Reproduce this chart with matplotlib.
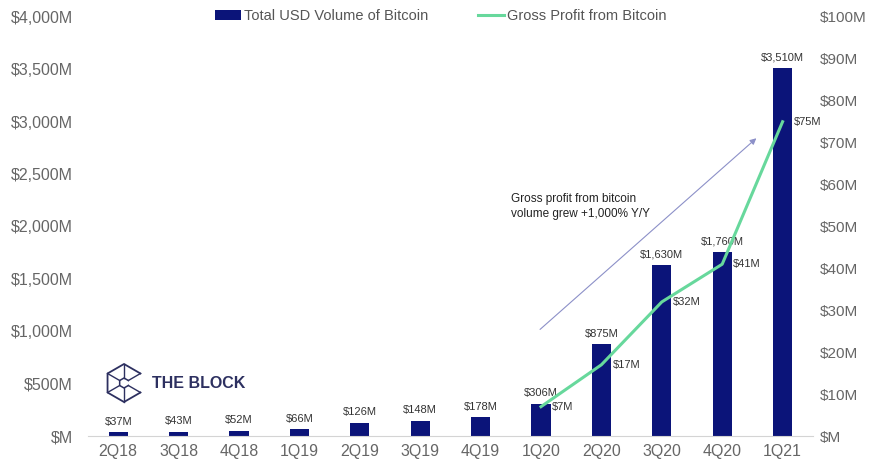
import matplotlib
matplotlib.use("Agg")
import matplotlib.pyplot as plt
import numpy as np
from matplotlib.lines import Line2D

quarters = ['2Q18', '3Q18', '4Q18', '1Q19', '2Q19', '3Q19', '4Q19',
            '1Q20', '2Q20', '3Q20', '4Q20', '1Q21']
volume = [37, 43, 52, 66, 126, 148, 178, 306, 875, 1630, 1760, 3510]
profit_quarters = ['1Q20', '2Q20', '3Q20', '4Q20', '1Q21']
profit = [7, 17, 32, 41, 75]

left_ticks = [0, 500, 1000, 1500, 2000, 2500, 3000, 3500, 4000]
right_ticks = [0, 10, 20, 30, 40, 50, 60, 70, 80, 90, 100]

navy = '#0b1479'
green = '#67d89c'
gray = '#666666'

plt.rcParams['font.family'] = ['Liberation Sans', 'DejaVu Sans']

fig = plt.figure(figsize=(8.69, 4.63), dpi=100)
ax = fig.add_axes([0.1013, 0.0583, 0.834, 0.905])
x = np.arange(len(quarters))
bars = ax.bar(x, volume, width=0.32, color=navy, zorder=2,
              label='Total USD Volume of Bitcoin')
ax.set_xlim(-0.5, len(quarters) - 0.5)
ax.set_ylim(0, 4000)
ax.set_yticks(left_ticks)
ax.set_yticklabels(['$M' if v == 0 else f'${v:,}M' for v in left_ticks],
                   fontsize=11.5, color=gray)
ax.set_xticks(x)
ax.set_xticklabels(quarters, fontsize=11.5, color=gray)
ax.tick_params(axis='both', length=0)
ax.tick_params(axis='y', pad=11)
ax.tick_params(axis='x', pad=6)
for s in ['top', 'right', 'left']:
    ax.spines[s].set_visible(False)
ax.spines['bottom'].set_color('#d4d4d4')

for xi, v in zip(x, volume):
    ax.annotate(f'${v:,}M', (xi, v), xytext=(0, 4), textcoords='offset points',
                ha='center', va='bottom', fontsize=8, color='#333333')

ax2 = ax.twinx()
px = [quarters.index(q) for q in profit_quarters]
ax2.plot(px, profit, color=green, lw=2.2, zorder=3,
         label='Gross Profit from Bitcoin')
ax2.set_ylim(0, 100)
ax2.set_yticks(right_ticks)
ax2.set_yticklabels(['$M' if v == 0 else f'${v}M' for v in right_ticks],
                    fontsize=11, color=gray)
ax2.tick_params(axis='y', length=0, pad=5)
for s in ['top', 'right', 'left', 'bottom']:
    ax2.spines[s].set_visible(False)
for xi, v in zip(px, profit):
    ax2.annotate(f'${v}M', (xi, v), xytext=(8, 0), textcoords='offset points',
                 ha='left', va='center', fontsize=8, color='#333333')

# arrow + annotation
ax2.annotate('', xy=(10.6, 71.5), xytext=(6.95, 25),
             arrowprops=dict(arrowstyle='-|>', color='#8c90c8', lw=0.8,
                             mutation_scale=9))
ax2.text(6.5, 54.8, 'Gross profit from bitcoin\nvolume grew +1,000% Y/Y',
         fontsize=8.5, color='#222222', va='center', ha='left', linespacing=1.3)

# legend
handles = [bars, ax2.get_lines()[0]]
leg = fig.legend(handles, [h.get_label() for h in handles], ncol=2,
                 loc='center', bbox_to_anchor=(0.507, 0.966), frameon=False,
                 fontsize=10.5, handlelength=1.8, handletextpad=0.2,
                 columnspacing=3.4)
for t in leg.get_texts():
    t.set_color('#555555')

# logo
W, H = 869, 463
def fx(p):
    return p / W
def fy(p):
    return 1 - p / H
cx, cy, r = 124, 383, 19
ang = np.deg2rad(np.arange(30, 390, 60))
hx = cx + r * np.cos(ang)
hy = cy - r * np.sin(ang)
logo = '#2d3060'
fig.add_artist(Line2D(fx(hx), fy(hy), color=logo, lw=1.3,
                      transform=fig.transFigure))
ir = 5
ix = cx + ir * np.cos(ang)
iy = cy - ir * np.sin(ang)
fig.add_artist(Line2D(fx(ix), fy(iy), color=logo, lw=1.1,
                      transform=fig.transFigure))
for k in range(6):
    fig.add_artist(Line2D([fx(hx[k]), fx(ix[k])], [fy(hy[k]), fy(iy[k])],
                          color=logo, lw=1.0, transform=fig.transFigure))
fig.text(fx(152), fy(383), 'THE BLOCK', fontsize=11.5, fontweight='bold',
         color=logo, va='center', ha='left')

fig.savefig('out.png', dpi=100)
